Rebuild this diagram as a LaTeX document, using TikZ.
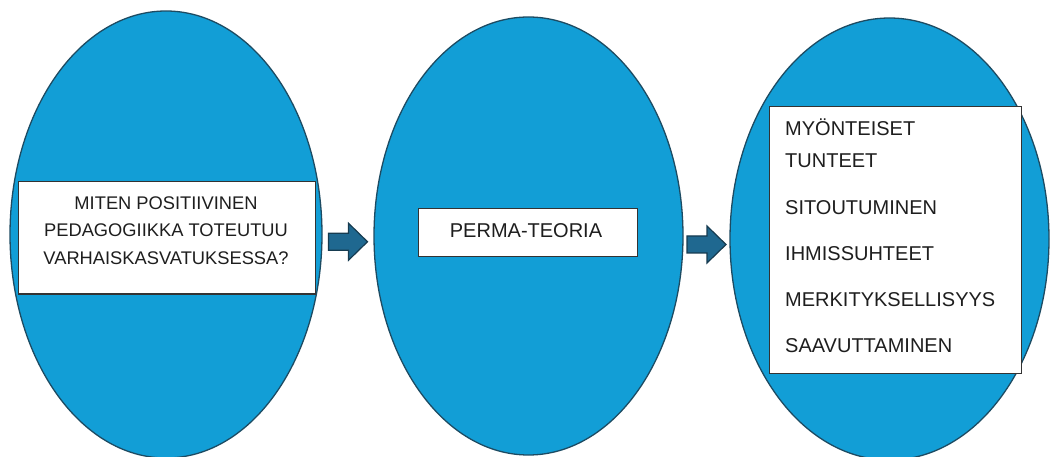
\documentclass[tikz,border=0pt]{standalone}
\usepackage{fontspec}
\setmainfont{Liberation Sans}
\usetikzlibrary{shapes.geometric,calc}

\definecolor{ovalfill}{HTML}{129ED6}
\definecolor{ovaledge}{HTML}{1D4B62}
\definecolor{arrowfill}{HTML}{1F6890}
\definecolor{arrowedge}{HTML}{163B50}
\definecolor{inktext}{HTML}{1E1E1E}

\tikzset{
  oval/.style={ellipse, draw=ovaledge, fill=ovalfill, line width=1.3pt, inner sep=0pt},
  whitebox/.style={rectangle, draw=black!80, fill=white, line width=1pt, inner sep=0pt},
  boxtext/.style={text=inktext, inner sep=0pt},
  listitem/.style={boxtext, anchor=base west, font=\fontsize{20}{24}\selectfont},
  pics/blockarrow/.style={code={
    \draw[fill=arrowfill, draw=arrowedge, line width=1.2pt, line join=miter]
      (-19.5,-8.5) -- (0.5,-8.5) -- (0.5,-18.5) -- (19.5,0) -- (0.5,18.5)
      -- (0.5,8.5) -- (-19.5,8.5) -- cycle;
  }}
}

\begin{document}
\begin{tikzpicture}[x=1pt, y=-1pt]
  \useasboundingbox (0,0) rectangle (1050,457);

  % three ovals
  \node[oval, minimum width=312pt, minimum height=447pt] (e1) at (166,234.5) {};
  \node[oval, minimum width=309pt, minimum height=438pt] (e2) at (528.5,236) {};
  \node[oval, minimum width=319pt, minimum height=442pt] (e3) at (889.5,239) {};

  % white panels
  \node[whitebox, minimum width=297pt, minimum height=112pt] (b1) at (166.5,238) {};
  \node[whitebox, minimum width=219pt, minimum height=48pt] (b2) at (527.5,233) {};
  \node[whitebox, minimum width=252pt, minimum height=266pt] (b3) at (895,240) {};

  % panel texts
  \node[boxtext, align=center, font=\fontsize{18.3}{27.5}\selectfont] (t1) at (166,230.5)
    {MITEN POSITIIVINEN\\PEDAGOGIIKKA TOTEUTUU\\VARHAISKASVATUKSESSA?};
  \node[boxtext, font=\fontsize{20}{24}\selectfont] (t2) at (526,231) {PERMA-TEORIA};

  % list items (the base of a two-line item is its last line)
  \node[listitem, align=left, font=\fontsize{20}{31.7}\selectfont] (p1) at (785,167.7) {MYÖNTEISET\\TUNTEET};
  \node[listitem] (p2) at (785,215) {SITOUTUMINEN};
  \node[listitem] (p3) at (785,261) {IHMISSUHTEET};
  \node[listitem] (p4) at (785,306.7) {MERKITYKSELLISYYS};
  \node[listitem] (p5) at (785,352.3) {SAAVUTTAMINEN};

  % block arrows between the ovals
  \pic at ($(e1.east)!0.5!(e2.west)+(0,6.5)$) {blockarrow};
  \pic at ($(e2.east)!0.5!(e3.west)+(0,7)$) {blockarrow};
\end{tikzpicture}
\end{document}
